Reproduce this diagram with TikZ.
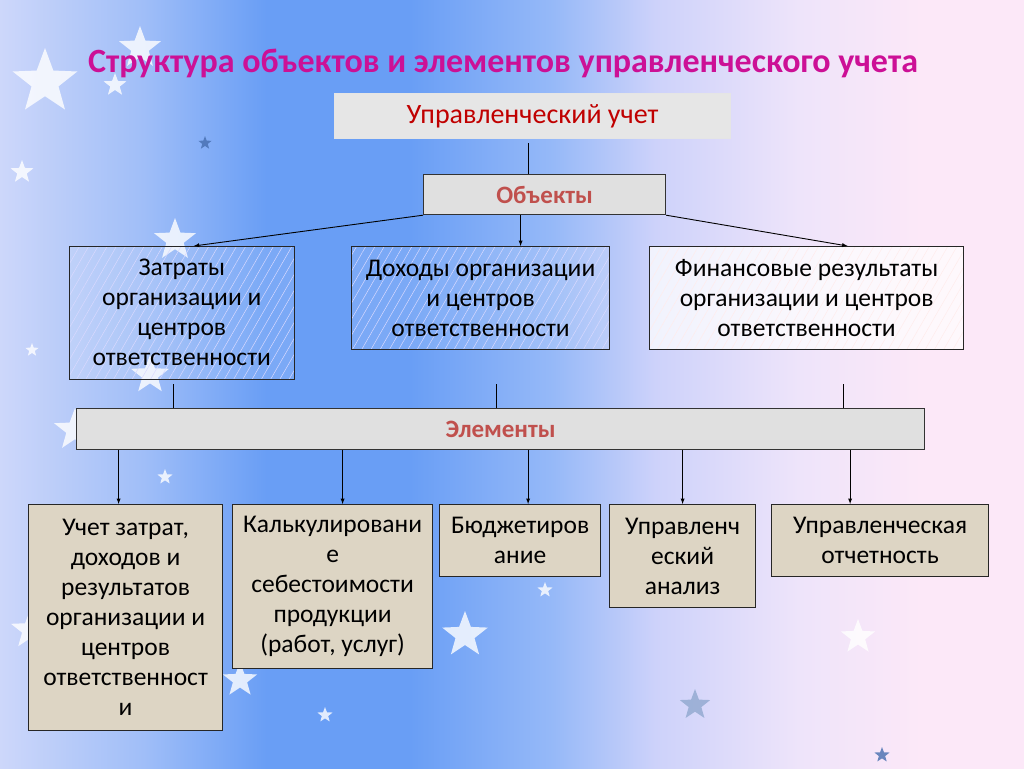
\documentclass[tikz,border=0pt]{standalone}
\usepackage{fontspec}
\setmainfont{Carlito}
\usetikzlibrary{arrows,shapes.geometric,patterns.meta}
\definecolor{titlecol}{RGB}{204,16,150}
\definecolor{headred}{RGB}{192,0,0}
\definecolor{elemred}{RGB}{192,80,77}
\definecolor{greyfill}{RGB}{224,224,224}
\definecolor{beige}{RGB}{221,213,196}
\definecolor{bgA}{RGB}{205,215,250}
\definecolor{bgB}{RGB}{160,190,248}
\definecolor{bgC}{RGB}{105,158,245}
\definecolor{bgD}{RGB}{150,185,248}
\definecolor{bgE}{RGB}{205,210,250}
\definecolor{bgF}{RGB}{238,228,250}
\definecolor{bgG}{RGB}{252,232,248}
\definecolor{stardark}{RGB}{70,110,175}
\pgfdeclarehorizontalshading{bgshade}{100bp}{color(0bp)=(bgA); color(25bp)=(bgA);
  color(32bp)=(bgB); color(38bp)=(bgC); color(45bp)=(bgC); color(52bp)=(bgD);
  color(57bp)=(bgE); color(64bp)=(bgF); color(70bp)=(bgG); color(75bp)=(bgG); color(100bp)=(bgG)}
\begin{document}
\begin{tikzpicture}[x=1pt,y=-1pt,
    txt/.style={font=\fontsize{25.5}{30}\selectfont,align=center,inner sep=0pt},
    greybox/.style={draw=black!80,line width=1.2pt,fill=greyfill,text=elemred,
      font=\fontsize{25}{28}\selectfont\bfseries,inner sep=0pt},
    hatchbox/.style={txt,draw=black!85,line width=1.2pt,anchor=north west,
      preaction={fill=white,fill opacity=0.12},
      pattern={Lines[angle=60,distance=8pt,line width=0.5pt]},pattern color=white!85!blue},
    elembox/.style={txt,draw=black!85,line width=1.2pt,fill=beige,anchor=north west},
    starshape/.style={star,star points=5,star point ratio=2.4,fill=white,inner sep=0pt,opacity=0.8},
    arr/.style={-latex,line width=0.9pt},
    ln/.style={line width=0.9pt}]
\useasboundingbox (0,0) rectangle (1024,768);
\shade[shading=bgshade] (0,0) rectangle (1024,768);
% stars
\foreach \i/\sx/\sy/\r/\c in {1/45/82/34/white,2/140/48/22/white,3/115/85/12/white,
    4/205/143/7/stardark,5/22/172/12/white,6/175/240/22/white,7/32/350/7/white,
    8/150/375/20/white,9/75/430/22/white,10/165/477/8/white,11/30/630/20/white,
    12/240/680/18/white,13/325/715/8/white,14/465/635/24/white,15/545/590/8/white,
    16/695/705/16/stardark!60,17/858/637/18/white,18/882/755/8/stardark}
  \node[starshape,minimum size=\r*2,fill=\c] (s\i) at (\sx,\sy) {};
% title
\node[anchor=base,text=titlecol,font=\fontsize{34}{38}\selectfont\bfseries] (title) at (503,72)
  {Структура объектов и элементов управленческого учета};
% top
\node[draw=white!90!black,line width=1pt,fill=greyfill!80!white,text=headred,
  font=\fontsize{28}{32}\selectfont,minimum width=396,minimum height=45,anchor=north west]
  (uchet) at (334,93) {Управленческий учет};
\node[greybox,minimum width=242,minimum height=40,anchor=north west] (obj) at (423,174) {Объекты};
% objects
\node[hatchbox,minimum width=225,minimum height=133] (zatr) at (69,246)
  {Затраты\\организации и\\центров\\ответственности};
\node[hatchbox,minimum width=258,minimum height=103] (doh) at (351,246)
  {Доходы организации\\и центров\\ответственности};
\node[hatchbox,minimum width=314,minimum height=103,preaction={fill=white,fill opacity=0.7},
  pattern color=white!70!pink] (fin) at (649,246)
  {Финансовые результаты\\организации и центров\\ответственности};
\draw[ln] (uchet.south) ++(0,4) coordinate (u1);
\draw[ln] ([xshift=-4pt]u1) -- ([xshift=-4pt]u1 |- obj.north);
\draw[arr] (obj.south west) -- ([xshift=12pt]zatr.north);
\coordinate (o2) at ([xshift=-24pt]obj.south);
\draw[arr] (o2) -- (o2 |- doh.north);
\draw[arr] (obj.south east) -- ([xshift=41pt]fin.north);
% elements
\node[greybox,minimum width=848,minimum height=41,anchor=north west] (elem) at (76,408) {Элементы};
\coordinate (z1) at (173,384);
\coordinate (d1) at (496,384);
\coordinate (f1) at (843,384);
\foreach \p in {z1,d1,f1}
  \draw[ln] (\p) -- (\p |- elem.north);
\node[elembox,minimum width=194,minimum height=226] (e1) at (28,504)
  {Учет затрат,\\доходов и\\результатов\\организации и\\центров\\ответственност\\и};
\node[elembox,minimum width=200,minimum height=164] (e2) at (232,504)
  {Калькулировани\\е\\себестоимости\\продукции\\(работ, услуг)};
\node[elembox,minimum width=161,minimum height=72] (e3) at (439,504) {Бюджетиров\\ание};
\node[elembox,minimum width=146,minimum height=103] (e4) at (609,504) {Управленч\\еский\\анализ};
\node[elembox,minimum width=217,minimum height=72] (e5) at (771,504) {Управленческая\\отчетность};
\foreach \n/\d in {e1/-7,e2/10,e3/8,e4/0,e5/-30}{
  \coordinate (t\n) at ([xshift=\d pt]\n.north);
  \draw[arr] (t\n |- elem.south) -- (t\n);
}
\end{tikzpicture}
\end{document}
